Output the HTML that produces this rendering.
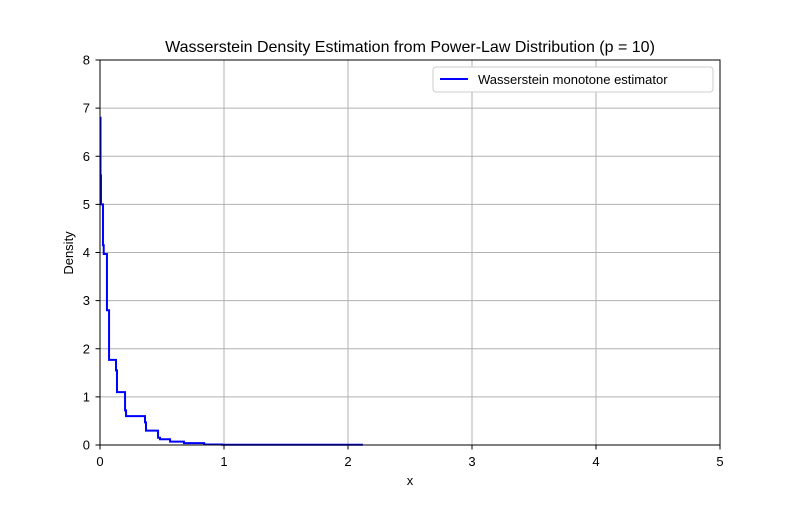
<!DOCTYPE html>
<html><head><meta charset="utf-8"><style>
body{margin:0;background:#fff;font-family:"Liberation Sans",sans-serif}
text{font-family:"Liberation Sans",sans-serif}
</style></head><body>
<svg id="chart" width="800" height="500" xmlns="http://www.w3.org/2000/svg">
<rect width="800" height="500" fill="#fff"/>
<g id="grid"></g>
<g id="ticks"></g>
<path id="series" fill="none" stroke="#0000ff" stroke-width="2"/>
<rect x="100" y="60" width="620" height="385" fill="none" stroke="#000" stroke-width="1"/>
<text x="410" y="52" text-anchor="middle" font-size="16">Wasserstein Density Estimation from Power-Law Distribution (p = 10)</text>
<text x="410" y="485" text-anchor="middle" font-size="13">x</text>
<text transform="translate(73,253) rotate(-90)" text-anchor="middle" font-size="13">Density</text>
<g>
<rect x="433" y="67" width="280" height="25" rx="3" fill="#fff" stroke="#ccc"/>
<line x1="440" y1="79" x2="468" y2="79" stroke="#0000ff" stroke-width="2"/>
<text x="478" y="84" font-size="13">Wasserstein monotone estimator</text>
</g>
</svg>
<script>
const xTicks=[0,1,2,3,4,5];
const yTicks=[0,1,2,3,4,5,6,7,8];
const edges=[0,0.004,0.008,0.024,0.03,0.056,0.073,0.129,0.137,0.202,0.21,0.363,0.371,0.468,0.484,0.565,0.677,0.84,0.984,2.12];
const densities=[6.8,5.6,5.0,4.15,3.97,2.8,1.77,1.55,1.1,0.72,0.6,0.47,0.3,0.15,0.12,0.07,0.04,0.01,0.005];
const X=v=>100+v*124, Y=v=>445-v*48.125;
const ns="http://www.w3.org/2000/svg";
const grid=document.getElementById('grid'), ticks=document.getElementById('ticks');
function mk(tag,attrs,parent){const e=document.createElementNS(ns,tag);for(const k in attrs)e.setAttribute(k,attrs[k]);parent.appendChild(e);return e;}
xTicks.forEach(t=>{
 const g=mk('line',{x1:X(t),x2:X(t),y1:60,y2:445,stroke:'#b0b0b0','stroke-width':1},grid);
 
 
 const tk=mk('line',{x1:X(t),x2:X(t),y1:445,y2:449.5,stroke:'#000'},ticks);
 
 
 const l=mk('text',{x:X(t),y:466,'text-anchor':'middle','font-size':13},ticks);l.textContent=t;
 
 
});
yTicks.forEach(t=>{
 const g=mk('line',{x1:100,x2:720,y1:Y(t),y2:Y(t),stroke:'#b0b0b0','stroke-width':1},grid);
 
 
 const tk=mk('line',{x1:95.5,x2:100,y1:Y(t),y2:Y(t),stroke:'#000'},ticks);
 
 
 const l=mk('text',{x:90,y:Y(t)+4.5,'text-anchor':'end','font-size':13},ticks);l.textContent=t;
 
 
});
let d='';
densities.forEach((v,i)=>{
 d+=(i===0?'M':'L')+X(edges[i])+','+Y(v)+'L'+X(edges[i+1])+','+Y(v);
});
document.getElementById('series').setAttribute('d',d);
</script>
</body></html>
